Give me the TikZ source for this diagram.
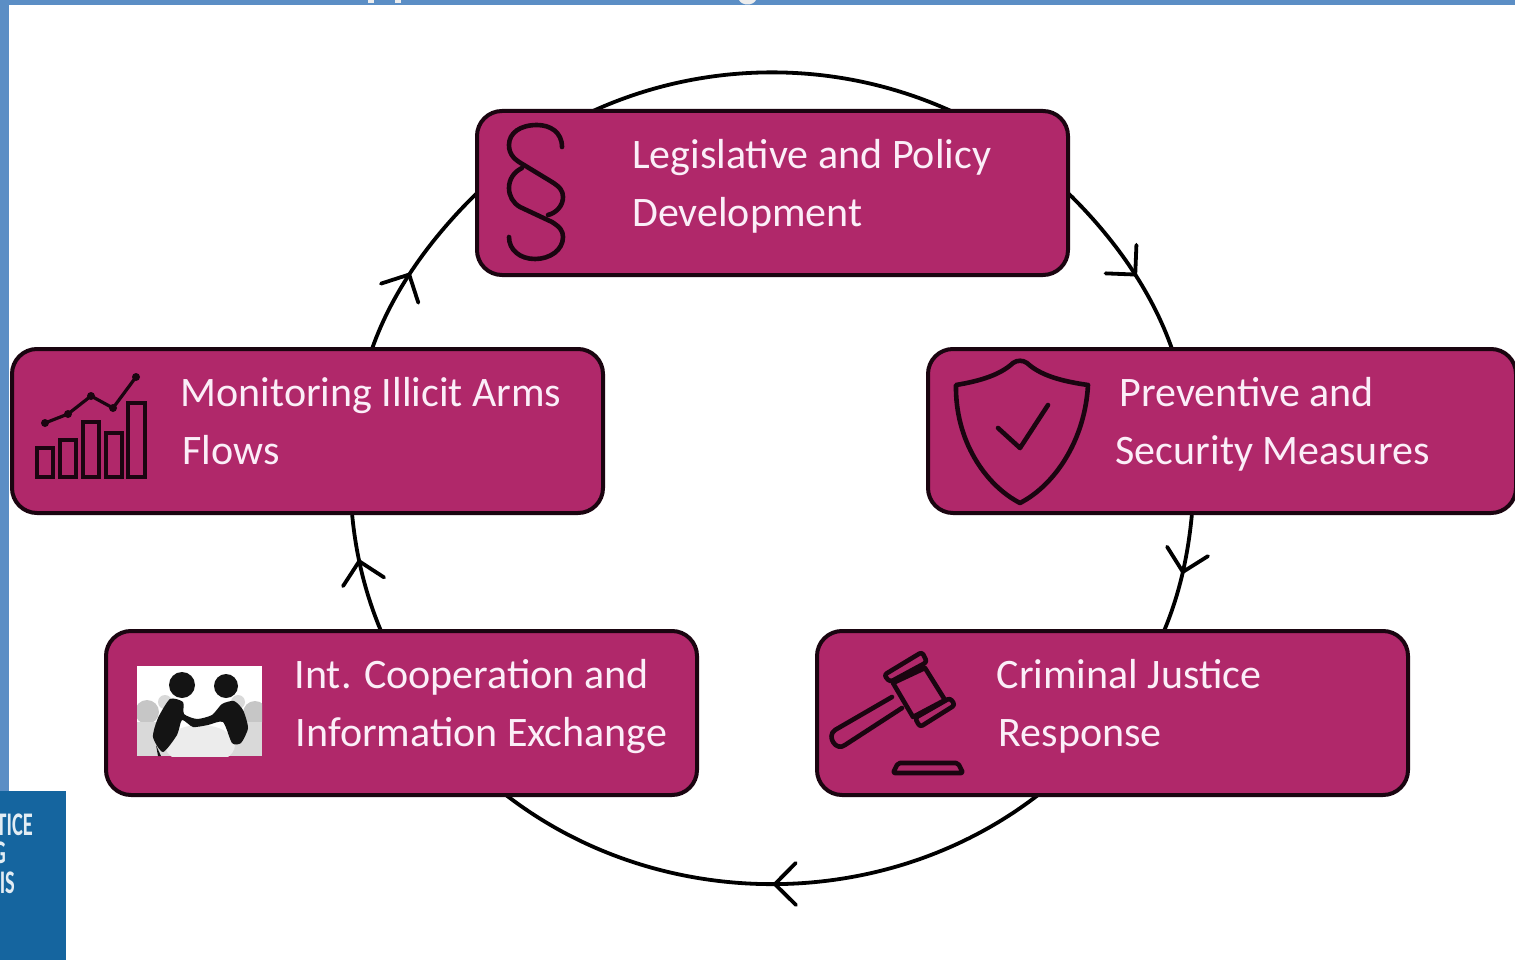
\documentclass[tikz,border=0pt]{standalone}
\usepackage{fontspec}
\setmainfont{Carlito}
\usetikzlibrary{backgrounds,decorations.markings}
\definecolor{boxfill}{HTML}{B0286A}
\definecolor{boxline}{HTML}{1A0510}
\definecolor{band}{HTML}{5B8EC5}
\definecolor{logoblue}{HTML}{15659F}
\definecolor{labeltext}{HTML}{FBEEF8}
\tikzset{
  x=1pt,y=-1pt,
  boxnode/.style={draw=boxline,fill=boxfill,line width=4pt,rounded corners=25pt,minimum width=#1,minimum height=164pt,inner sep=0pt,outer sep=0pt},
  boxnode/.default=591pt,
  label text/.style={anchor=west,align=left,inner sep=0pt,text=labeltext,font=\fontsize{42}{58}\selectfont},
  ring/.style={draw=black,line width=3.8pt},
  icon/.style={draw=boxline,line width=4.6pt,line join=round,line cap=round},
  arrowmark/.style 2 args={postaction={decorate},decoration={markings,mark=at position #1 with {\draw[ring,line cap=round,line join=miter,rotate=#2] (-21,21)--(0,0)--(-21,-21);}}},
  logo text/.style={anchor=base east,inner sep=0pt,text=logoblue!12!white,xscale=.62,font=\fontsize{33}{33}\selectfont\bfseries}
}
\newcommand\ringarc[5]{%
  \pgfmathsetmacro\kk{4/3*tan((#3-#2)/4)}%
  \draw[ring,#5] (#1) .. controls +({-421*\kk*sin(#2)},{406*\kk*cos(#2)}) and +({421*\kk*sin(#3)},{-406*\kk*cos(#3)}) .. (#4);}
\begin{document}
\begin{tikzpicture}
\useasboundingbox (0,0) rectangle (1515,960);
\clip (0,0) rectangle (1515,960);

% page furniture
\fill[band] (0,0) rectangle (1515,5);
\fill[band] (0,0) rectangle (9,791);
\fill[white!93!black] (368,0) rectangle (374,3);
\fill[white!93!black] (395,0) rectangle (401,3);
\fill[white!93!black] (739,0) .. controls (742,6) and (753,6) .. (756,0) -- cycle;
\fill[logoblue] (0,791) rectangle (66,960);
\begin{scope}
\clip (0,791) rectangle (66,960);
\node[logo text] (logoa) at (33,835) {TICE};
\node[logo text] (logob) at (6,863) {G};
\node[logo text] (logoc) at (15,893) {IS};
\end{scope}

% boxes
\node[boxnode] (legal) at (772.5,193) {};
\node[boxnode=588pt] (prevent) at (1222,431) {};
\node[boxnode] (monitor) at (307.5,431) {};
\node[boxnode] (coop) at (401.5,713) {};
\node[boxnode] (crim) at (1112.5,713) {};

% labels
\node[label text] (legalt) at (632,186) {Legislative and Policy\\Development};
\node[label text] (prevt) at (1115.5,424) {\hspace*{4pt}Preventive and\\Security Measures};
\node[label text] (mont) at (180.5,421) {Monitoring Illicit Arms\\\hspace*{2pt}Flows};
\node[label text] (coopt) at (294.5,707) {Int. Cooperation and\\\hspace*{1pt}Information Exchange};
\node[label text] (crimt) at (996.5,706) {Criminal Justice\\\hspace*{2pt}Response};

% ring connectors
\coordinate (a1) at (legal.east);
\coordinate (a2) at (1172,0 |- prevent.north);
\coordinate (b1) at (1192,0 |- prevent.south);
\coordinate (b2) at (1164,0 |- crim.north);
\coordinate (c1) at (1038,0 |- crim.south);
\coordinate (c2) at (506,0 |- coop.south);
\coordinate (d1) at (381,0 |- coop.north);
\coordinate (d2) at (352,0 |- monitor.south);
\coordinate (e1) at (372,0 |- monitor.north);
\coordinate (e2) at (legal.west);
\coordinate (f1) at (593,0 |- legal.north);
\coordinate (f2) at (951,0 |- legal.north);
\begin{scope}[on background layer]
\fill[white] (0,0) rectangle (1515,960);
\ringarc{a1}{-44.7}{-18.6}{a2}{arrowmark={.56}{10}}
\ringarc{b1}{4.9}{22.1}{b2}{arrowmark={.49}{0}}
\ringarc{c1}{51.3}{128.7}{c2}{arrowmark={.495}{0}}
\ringarc{d1}{157.9}{175.1}{d2}{arrowmark={.6}{0}}
\ringarc{e1}{198.6}{224.7}{e2}{arrowmark={.44}{6}}
\ringarc{f1}{244.8}{295.2}{f2}{}
\end{scope}

% section sign icon
\draw[icon] (562,147) .. controls (562,132) and (550,125) .. (537,125) .. controls (520,125) and (509,133) .. (509,145) .. controls (509,155) and (515,160) .. (524,165) -- (552,182) .. controls (560,187) and (563,191) .. (563,197) .. controls (563,206) and (556,213) .. (548,215);
\draw[icon] (522,168) .. controls (514,172) and (509,179) .. (509,188) .. controls (509,196) and (513,203) .. (520,207) -- (552,222) .. controls (560,227) and (563,231) .. (563,237) .. controls (563,250) and (550,259) .. (535,259) .. controls (520,259) and (509,250) .. (509,237);

% shield icon
\draw[icon] (1013,363) .. controls (1000,375) and (980,381) .. (956,385) .. controls (955,440) and (985,485) .. (1020,503) .. controls (1055,485) and (1085,440) .. (1088,385) .. controls (1060,381) and (1040,375) .. (1027,363) .. controls (1023,360) and (1017,360) .. (1013,363) -- cycle;
\draw[icon] (998,428) -- (1020,448) -- (1048,405);

% chart icon
\foreach \xa/\xb/\yt in {37/53/448,60/76/440,83/99/422,106/122/433,128/145/403}
  \draw[icon,line join=miter] (\xa,\yt) rectangle (\xb,477);
\draw[icon,line width=3.2pt] (45,423) -- (68,414) -- (91,396) -- (113,408) -- (136,377);
\foreach \px/\py in {45/423,68/414,91/396,113/408,136/377}
  \fill[boxline] (\px,\py) circle[radius=4];

% gavel icon
\draw[icon] (892,697) -- (835,730) .. controls (826,736) and (836,752) .. (845,745) -- (902,708);
\draw[icon] (893,683) -- (925,668) -- (945,700) -- (913,717) -- cycle;
\draw[icon,rounded corners=3pt] (884,675) -- (922,652) -- (927,662) -- (890,682) -- cycle;
\draw[icon,rounded corners=3pt] (915,718) -- (950,698) -- (955,705) -- (920,727) -- cycle;
\draw[icon,line cap=butt,rounded corners=2pt] (893,773) -- (898,763) -- (958,763) -- (963,773) -- cycle;

% handshake picture
\begin{scope}
\clip (137,666) rectangle (262,756);
\fill[white] (137,666) rectangle (262,756);
\fill[gray!45!white] (147,712) circle[radius=12];
\fill[gray!45!white] (255,713) circle[radius=12];
\fill[gray!30!white] (137,722) rectangle (172,756);
\fill[gray!30!white] (230,722) rectangle (262,756);
\fill[gray!30!white] (165,702) circle[radius=7];
\fill[gray!30!white] (238,702) circle[radius=7];
\fill[white!85!gray] (200,745) ellipse[x radius=35,y radius=20];
\fill[black!92] (182,685) circle[radius=13];
\fill[black!92] (226,686) circle[radius=12];
\fill[black!92] plot[smooth cycle,tension=.4] coordinates {(170,699) (183,702) (184,714) (197,719) (212,715) (222,704) (234,701) (243,710) (248,728) (241,743) (232,743) (223,722) (208,725) (193,727) (182,720) (177,735) (163,752) (153,737) (158,718)};
\fill[black!92] (156,745) -- (161,756) -- (158,756) -- cycle;
\end{scope}
\end{tikzpicture}
\end{document}
